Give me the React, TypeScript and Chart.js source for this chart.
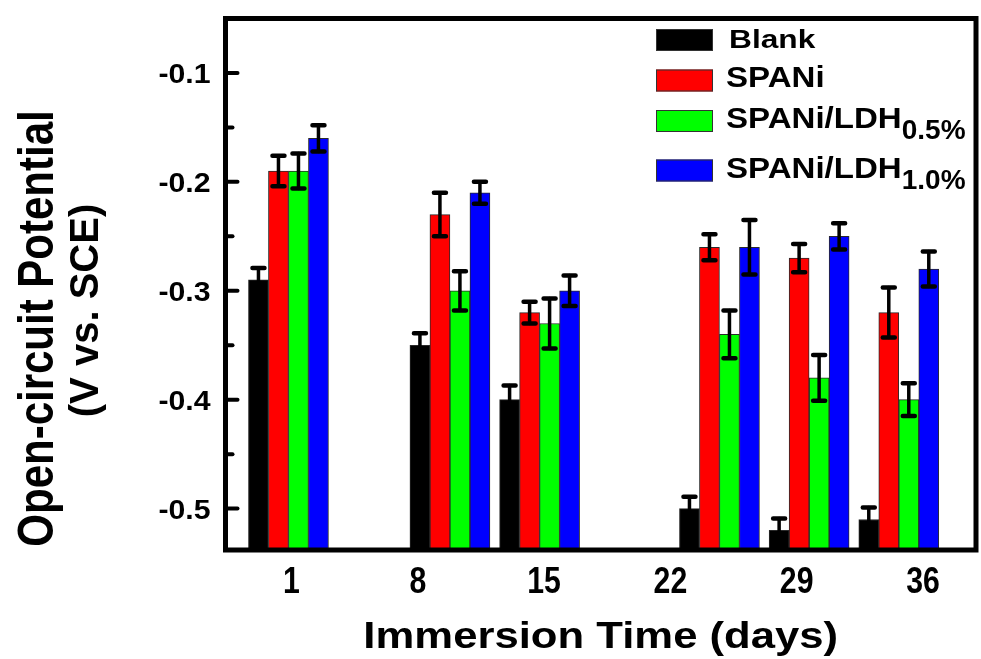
import { useEffect, useRef } from "react";
import Chart from "chart.js/auto";

// ---- data ----
const dayLabels = ["1", "8", "15", "22", "29", "36"];
const dayTickValues = [1, 8, 15, 22, 29, 36];
// x position (in days) at which each group of bars is centred in the original figure
const groupX = [0.83, 9.78, 14.75, 24.72, 29.69, 34.66];

const seriesNames = ["Blank", "SPANi", "SPANi/LDH", "SPANi/LDH"];
const seriesSubs = ["", "", "0.5%", "1.0%"];
const seriesColors = ["#000000", "#ff0000", "#00ff00", "#0000ff"];

const blank = [-0.29, -0.35, -0.4, -0.5, -0.52, -0.51];
const spani = [-0.19, -0.23, -0.32, -0.26, -0.27, -0.32];
const ldh05 = [-0.19, -0.3, -0.33, -0.34, -0.38, -0.4];
const ldh10 = [-0.16, -0.21, -0.3, -0.26, -0.25, -0.28];

const blankErr = [0.011, 0.011, 0.013, 0.011, 0.011, 0.011];
const spaniErr = [0.014, 0.02, 0.01, 0.012, 0.013, 0.023];
const ldh05Err = [0.016, 0.018, 0.023, 0.022, 0.021, 0.015];
const ldh10Err = [0.012, 0.01, 0.014, 0.025, 0.012, 0.016];

const seriesValues = [blank, spani, ldh05, ldh10];
const seriesErrors = [blankErr, spaniErr, ldh05Err, ldh10Err];

const yMajorTicks = [-0.5, -0.4, -0.3, -0.2, -0.1];
const yMinorTicks = [-0.45, -0.35, -0.25, -0.15];
const yMin = -0.538;
const yMax = -0.05;
const xMin = -2.66;
const xMax = 38.94;

const xTitle = "Immersion Time (days)";
const yTitle1 = "Open-circuit Potential";
const yTitle2 = "(V vs. SCE)";

const FAM = '"Liberation Sans", Arial, Helvetica, sans-serif';

function drawText(
  ctx: CanvasRenderingContext2D,
  s: string,
  x: number,
  y: number,
  size: number,
  sx: number,
  align: CanvasTextAlign = "left"
) {
  ctx.save();
  ctx.translate(x, y);
  ctx.scale(sx, 1);
  ctx.font = `bold ${size}px ${FAM}`;
  ctx.textAlign = align;
  ctx.textBaseline = "alphabetic";
  ctx.fillStyle = "#000";
  ctx.fillText(s, 0, 0);
  ctx.restore();
}

function drawRotated(
  ctx: CanvasRenderingContext2D,
  s: string,
  x: number,
  y: number,
  size: number,
  sy: number
) {
  ctx.save();
  ctx.translate(x, y);
  ctx.rotate(-Math.PI / 2);
  ctx.scale(1, sy);
  ctx.font = `bold ${size}px ${FAM}`;
  ctx.textAlign = "center";
  ctx.textBaseline = "alphabetic";
  ctx.fillStyle = "#000";
  ctx.fillText(s, 0, 0);
  ctx.restore();
}

const decorPlugin = {
  id: "decor",
  afterDatasetsDraw(chart: any) {
    const ctx: CanvasRenderingContext2D = chart.ctx;
    const ys = chart.scales.y;
    ctx.save();
    ctx.strokeStyle = "#000";
    ctx.lineCap = "round";
    chart.data.datasets.forEach((ds: any, i: number) => {
      const meta = chart.getDatasetMeta(i);
      const errs = seriesErrors[i];
      const vals = seriesValues[i];
      meta.data.forEach((el: any, j: number) => {
        const x = el.x;
        const top = ys.getPixelForValue(vals[j] + errs[j]);
        const bot = ys.getPixelForValue(vals[j] - errs[j]);
        ctx.lineWidth = 3.5;
        ctx.beginPath();
        ctx.moveTo(x, top);
        ctx.lineTo(x, bot);
        ctx.stroke();
        ctx.lineWidth = 4.5;
        ctx.beginPath();
        ctx.moveTo(x - 6, top);
        ctx.lineTo(x + 6, top);
        ctx.moveTo(x - 6, bot);
        ctx.lineTo(x + 6, bot);
        ctx.stroke();
      });
    });
    ctx.restore();
  },
  afterDraw(chart: any) {
    const ctx: CanvasRenderingContext2D = chart.ctx;
    const { left, right, top, bottom } = chart.chartArea;
    const ys = chart.scales.y;
    const xs = chart.scales.x;
    ctx.save();
    // frame
    ctx.strokeStyle = "#000";
    ctx.lineWidth = 5;
    ctx.lineJoin = "miter";
    ctx.strokeRect(left, top, right - left, bottom - top);
    // inward ticks on the left axis
    ctx.lineCap = "round";
    ctx.lineWidth = 4;
    yMajorTicks.forEach((v) => {
      const y = ys.getPixelForValue(v);
      ctx.beginPath();
      ctx.moveTo(left, y);
      ctx.lineTo(left + 12, y);
      ctx.stroke();
    });
    yMinorTicks.forEach((v) => {
      const y = ys.getPixelForValue(v);
      ctx.beginPath();
      ctx.moveTo(left, y);
      ctx.lineTo(left + 7, y);
      ctx.stroke();
    });
    ctx.restore();

    // y tick labels
    yMajorTicks.forEach((v) => {
      const y = ys.getPixelForValue(v);
      drawText(ctx, v.toFixed(1), left - 15, y + 10, 28, 1.08, "right");
    });
    // x tick labels
    dayTickValues.forEach((v, i) => {
      const x = xs.getPixelForValue(v);
      drawText(ctx, dayLabels[i], x, 593, 36, 0.84, "center");
    });
    // axis titles
    drawText(ctx, xTitle, (left + right) / 2, 648, 37, 1.18, "center");
    drawRotated(ctx, yTitle1, 53, 328.5, 42, 1.2);
    drawRotated(ctx, yTitle2, 98, 310.5, 40, 1.0);

    // legend
    const swL = right - 320;
    const swW = 57;
    const swTops = [29, 69.5, 110, 159.5];
    const baselines = [48, 87, 128, 178];
    ctx.save();
    seriesNames.forEach((name, i) => {
      ctx.fillStyle = seriesColors[i];
      ctx.fillRect(swL, swTops[i], swW, 22);
      ctx.strokeStyle = "#333";
      ctx.lineWidth = 1;
      ctx.strokeRect(swL + 0.5, swTops[i] + 0.5, swW - 1, 21);
    });
    ctx.restore();
    seriesNames.forEach((name, i) => {
      const tx = i === 0 ? right - 247 : right - 250;
      if (i === 0) {
        drawText(ctx, name, tx, baselines[i], 26, 1.22, "left");
      } else {
        ctx.save();
        ctx.font = `bold 29px ${FAM}`;
        const w = ctx.measureText(name).width * 1.14;
        ctx.restore();
        drawText(ctx, name, tx, baselines[i], 29, 1.14, "left");
        if (seriesSubs[i]) {
          drawText(ctx, seriesSubs[i], tx + w, baselines[i] + 11, 28, 1.0, "left");
        }
      }
    });
  },
};

export default function App() {
  const ref = useRef<HTMLCanvasElement | null>(null);
  useEffect(() => {
    const canvas = ref.current;
    if (!canvas) return;
    const chart = new Chart(canvas, {
      type: "bar",
      data: {
        datasets: seriesNames.map((name, i) => ({
          label: name + seriesSubs[i],
          data: groupX.map((x, j) => ({ x, y: seriesValues[i][j] })),
          backgroundColor: seriesColors[i],
          borderColor: "#2a2a2a",
          borderWidth: 1,
          barThickness: 20,
          base: yMin,
          grouped: true,
        })),
      },
      options: {
        animation: false,
        responsive: false,
        maintainAspectRatio: false,
        layout: { padding: { left: 225.5, right: 5, top: 18.5, bottom: 109 } },
        plugins: { legend: { display: false }, tooltip: { enabled: false } },
        scales: {
          x: {
            type: "linear",
            min: xMin,
            max: xMax,
            offset: false,
            display: false,
            afterBuildTicks: (s: any) => {
              s.ticks = dayTickValues.map((v) => ({ value: v }));
            },
          },
          y: {
            type: "linear",
            min: yMin,
            max: yMax,
            display: false,
            afterBuildTicks: (s: any) => {
              s.ticks = yMajorTicks.map((v) => ({ value: v }));
            },
          },
        },
      } as any,
      plugins: [decorPlugin as any],
    });
    return () => chart.destroy();
  }, []);
  return (
    <div style={{ position: "absolute", left: 0, top: 0, width: 981, height: 659, background: "#fff" }}>
      <canvas ref={ref} width={981} height={659} style={{ display: "block" }} />
    </div>
  );
}
